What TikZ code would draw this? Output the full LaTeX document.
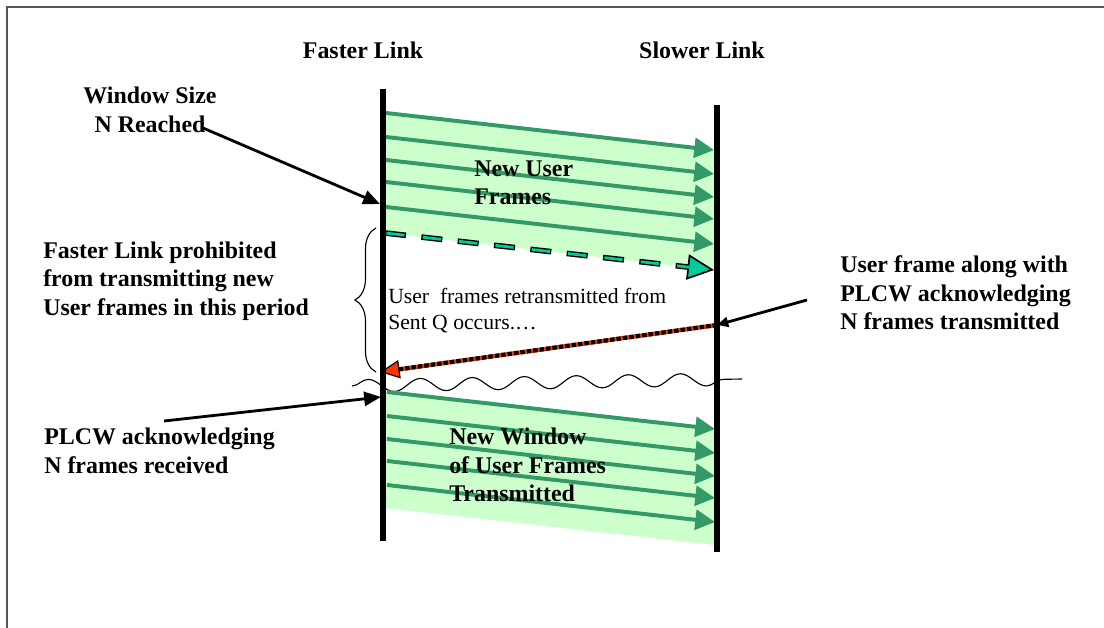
\documentclass[tikz,border=0pt]{standalone}
\usepackage{fontspec}
\setmainfont{Liberation Serif}
\usetikzlibrary{arrows.meta,decorations.pathmorphing,decorations.pathreplacing}
\definecolor{bandgreen}{HTML}{CCFFCC}
\definecolor{framegreen}{HTML}{339966}
\definecolor{dashteal}{HTML}{00CC99}
\definecolor{ackred}{HTML}{FF3300}
\definecolor{boxgray}{HTML}{555555}
\begin{document}
\begin{tikzpicture}[x=0.025cm, y=-0.025cm,
	boldtxt/.style={font=\fontsize{17}{20.2}\selectfont\bfseries, align=left, inner sep=0pt},
	plaintxt/.style={font=\fontsize{15.4}{18.4}\selectfont, align=left, inner sep=0pt},
	linkline/.style={line width=3.8pt},
	framearrow/.style={framegreen, line width=2.8pt, -{Triangle[length=14pt, width=14pt]}},
	pointerarrow/.style={line width=2pt, -{Triangle[length=12pt, width=10pt]}}]
	\useasboundingbox (0,0) rectangle (1104,628);
	% outer box
	\draw[boxgray, line width=1pt] (7,628) -- (7,7) -- (1104,7);
	% links
	\coordinate (fast top) at (383,89);
	\coordinate (fast bot) at (383,541);
	\coordinate (slow top) at (717,105);
	\coordinate (slow bot) at (717,552);
	\node[boldtxt] (fastname) at (363,50) {Faster Link};
	\node[boldtxt] (slowname) at (702,50) {Slower Link};
	% green bands
	\fill[bandgreen] (385,113) -- (714,150) -- (714,270) -- (385,233) -- cycle;
	\fill[bandgreen] (385,392) -- (714,429) -- (714,545) -- (385,508) -- cycle;
	% new user frames
	\foreach \y in {113,137,160,182,207}
		\draw[framearrow] (386,\y) -- (714,\y+37);
	\node[boldtxt, anchor=west] (newuser) at (474,183) {New User\\Frames};
	% last frame of the window
	\draw[line width=4pt, dash pattern=on 15pt off 11pt,
		-{Triangle[length=19pt, width=18pt, fill=dashteal, line width=1.2pt]}] (385,233) -- (714,270);
	\draw[dashteal, line width=2pt, dash pattern=on 13pt off 13pt, dash phase=25pt,
		shorten >=18pt] (385,233) -- (714,270);
	% retransmission
	\node[plaintxt, anchor=west] (retx) at (388,311) {User\ \ frames retransmitted from\\Sent Q occurs.…};
	\coordinate (ack out) at (717,325);
	\coordinate (ack in) at (380,372);
	\draw[ackred, line width=3pt,
		-{Triangle[length=14pt, width=13pt, color=black, fill=ackred, line width=0.8pt]}] (ack out) -- (ack in);
	\draw[line width=3pt, dash pattern=on 3.2pt off 1.4pt, shorten >=13pt] (ack out) -- (ack in);
	% brace
	\draw[decorate, decoration={brace, amplitude=15pt}, line width=0.8pt] (376,372) -- (376,228);
	% break in time
	\draw[decorate, decoration={snake, amplitude=4.5pt, segment length=37pt}, line width=0.8pt]
		(352,386) -- (742,379);
	% new window
	\foreach \y in {392,416,439,461,485}
		\draw[framearrow] (387,\y) -- (715,\y+37);
	\node[boldtxt, anchor=west] (newwin) at (449,465) {New Window\\of User Frames\\Transmitted};
	\draw[linkline] (fast top) -- (fast bot);
	\draw[linkline] (slow top) -- (slow bot);
	% labels
	\node[boldtxt, align=center] (window) at (150,110) {Window Size\\N Reached};
	\coordinate (window end) at (203,128);
	\coordinate (fast win) at (380,204);
	\draw[pointerarrow] (window end) -- (fast win);
	\node[boldtxt, anchor=west] (prohibited) at (43,281) {Faster Link prohibited\\from transmitting new\\User frames in this period};
	\node[boldtxt, anchor=west] (acktx) at (840,293) {User frame along with\\PLCW acknowledging\\N frames transmitted};
	\coordinate (acktx start) at (807,300);
	\draw[pointerarrow, -{Triangle[length=8pt, width=7pt]}] (acktx start) -- (ack out);
	\node[boldtxt, anchor=west] (ackrx) at (44,451) {PLCW acknowledging\\N frames received};
	\coordinate (ackrx start) at (164,421);
	\coordinate (fast rx) at (381,397);
	\draw[pointerarrow] (ackrx start) -- (fast rx);
\end{tikzpicture}
\end{document}
